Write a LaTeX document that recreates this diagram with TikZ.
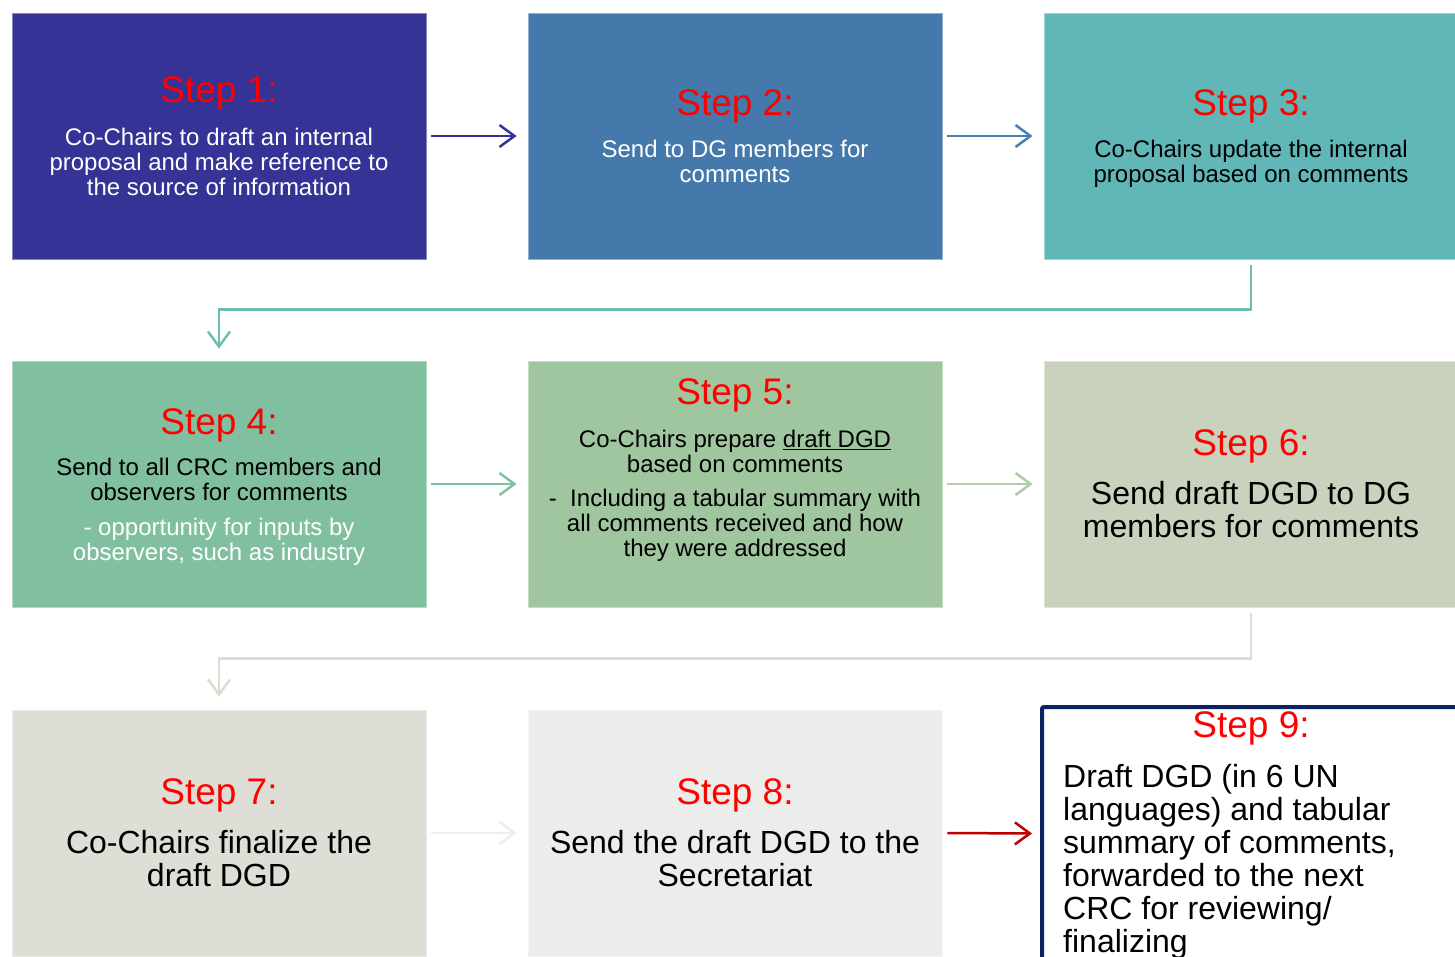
\documentclass[tikz,border=0pt]{standalone}
\usepackage{fontspec}
\setmainfont{Liberation Sans}
\usetikzlibrary{arrows.meta}
\definecolor{c1}{RGB}{54,51,150}
\definecolor{c2}{RGB}{69,121,172}
\definecolor{c3}{RGB}{97,182,183}
\definecolor{c4}{RGB}{128,191,159}
\definecolor{c5}{RGB}{159,198,159}
\definecolor{c6}{RGB}{200,210,188}
\definecolor{c7}{RGB}{222,222,214}
\definecolor{c8}{RGB}{236,236,234}
\definecolor{navy}{RGB}{11,36,97}
\definecolor{a2}{RGB}{74,127,181}
\definecolor{k3}{RGB}{109,189,178}
\definecolor{a4}{RGB}{128,194,160}
\definecolor{a5}{RGB}{176,205,170}
\definecolor{k6}{RGB}{220,221,208}
\definecolor{a7}{RGB}{237,237,237}
\definecolor{a8}{RGB}{192,0,0}
\definecolor{stepred}{RGB}{255,0,0}
\tikzset{
  box/.style={rectangle, inner sep=0pt, minimum width=414pt, minimum height=246pt},
  steptitle/.style={inner sep=0pt, text=stepred, font=\fontsize{37}{40}\selectfont},
  body/.style={inner sep=0pt, align=center, font=\fontsize{24}{25}\selectfont},
  bigbody/.style={inner sep=0pt, align=center, font=\fontsize{32}{33}\selectfont},
  flow/.style={line width=2.5pt, -{Straight Barb[length=15pt,width=22pt]}},
}
\begin{document}
\begin{tikzpicture}[x=1pt,y=-1pt]
\useasboundingbox (0,0) rectangle (1455,956);
% boxes
\node[box, fill=c1, draw=c1!60!white, line width=0.8pt] (b1) at (219,136) {};
\node[box, fill=c2, draw=c2!60!white, line width=0.8pt] (b2) at (735,136) {};
\node[box, fill=c3, draw=c3!60!white, line width=0.8pt] (b3) at (1251,136) {};
\node[box, fill=c4, draw=c4!60!white, line width=0.8pt] (b4) at (219,484) {};
\node[box, fill=c5, draw=c5!60!white, line width=0.8pt] (b5) at (735,484) {};
\node[box, fill=c6, draw=c6!60!white, line width=0.8pt] (b6) at (1251,484) {};
\node[box, fill=c7, draw=c7!60!white, line width=0.8pt] (b7) at (219,833) {};
\node[box, fill=c8, draw=c8!60!white, line width=0.8pt] (b8) at (735,833) {};
\node[rectangle, inner sep=0pt, minimum width=420pt, minimum height=253pt, fill=white, draw=navy, line width=4pt, rounded corners=2pt] (b9) at (1252,833.5) {};
% texts
\node[steptitle] (t1) at (219,93) {Step 1:};
\node[body, text=white] (d1) at (219,162) {Co-Chairs to draft an internal\\proposal and make reference to\\the source of information};
\node[steptitle] (t2) at (735,106) {Step 2:};
\node[body, text=white] (d2) at (735,161.5) {Send to DG members for\\comments};
\node[steptitle] (t3) at (1251,106) {Step 3:};
\node[body, text=black] (d3) at (1251,163.5) {Co-Chairs update the internal\\proposal based on comments};
\node[steptitle] (t4) at (219,425) {Step 4:};
\node[body, text=black] (d4) at (219,479.5) {Send to all CRC members and\\observers for comments};
\node[body, text=white] (e4) at (219,542) {- opportunity for inputs by\\observers, such as industry};
\node[steptitle] (t5) at (735,395) {Step 5:};
\node[body, text=black] (d5) at (735,451.5) {Co-Chairs prepare \underline{draft DGD}\\based on comments};
\node[body, text=black] (e5) at (735,525) {-\ \ Including a tabular summary with\\all comments received and how\\they were addressed};
\node[steptitle] (t6) at (1251,446) {Step 6:};
\node[bigbody, text=black] (d6) at (1251,510) {Send draft DGD to DG\\members for comments};
\node[steptitle] (t7) at (219,795) {Step 7:};
\node[bigbody, text=black] (d7) at (219,859) {Co-Chairs finalize the\\draft DGD};
\node[steptitle] (t8) at (735,795) {Step 8:};
\node[bigbody, text=black] (d8) at (735,859) {Send the draft DGD to the\\Secretariat};
\node[steptitle] (t9) at (1251,728) {Step 9:};
\node[bigbody, align=left, anchor=north west, text=black] (d9) at (1063,764) {Draft DGD (in 6 UN\\languages) and tabular\\summary of comments,\\forwarded to the next\\CRC for reviewing/\\finalizing};
% connectors
\draw[flow, c1, shorten <=5pt, shorten >=11pt] (b1.east) -- (b2.west);
\draw[flow, a2, shorten <=5pt, shorten >=11pt] (b2.east) -- (b3.west);
\draw[flow, k3, shorten <=6pt, shorten >=12pt] (b3.south) -- ++(0,50) -| (b4.north);
\draw[flow, a4, shorten <=5pt, shorten >=11pt] (b4.east) -- (b5.west);
\draw[flow, a5, shorten <=5pt, shorten >=11pt] (b5.east) -- (b6.west);
\draw[flow, k6, shorten <=6pt, shorten >=13pt] (b6.south) -- ++(0,51) -| (b7.north);
\draw[flow, a7, shorten <=5pt, shorten >=11pt] (b7.east) -- (b8.west);
\draw[flow, a8, shorten <=5pt, shorten >=8pt] (b8.east) -- (b9.west);
\end{tikzpicture}
\end{document}
